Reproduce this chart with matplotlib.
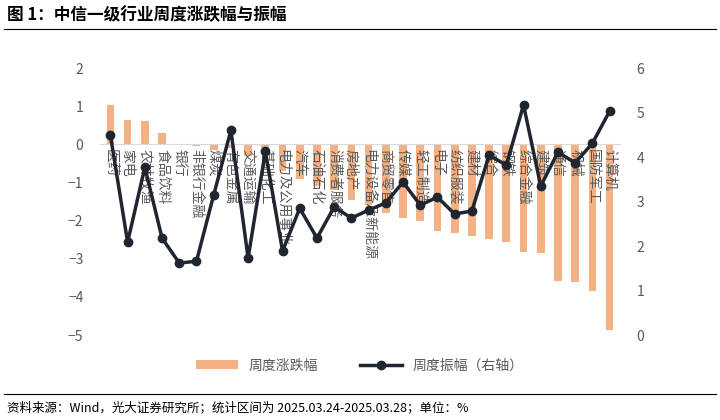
import numpy as np
import matplotlib.pyplot as plt

plt.rcParams['font.family'] = ['Noto Sans CJK SC', 'DejaVu Sans']

industries = ['医药', '家电', '农林牧渔', '食品饮料', '银行', '非银行金融', '煤炭', '有色金属',
              '交通运输', '基础化工', '电力及公用事业', '汽车', '石油石化', '消费者服务', '房地产',
              '电力设备及新能源', '商贸零售', '传媒', '轻工制造', '电子', '纺织服装', '建材', '综合',
              '钢铁', '综合金融', '建筑', '通信', '机械', '国防军工', '计算机']
weekly_change = [1.02, 0.65, 0.60, 0.31, 0.01, -0.05, -0.15, -0.10, -0.30, -0.10, -0.70, -0.90,
                 -1.10, -1.20, -1.47, -1.60, -1.80, -1.93, -2.00, -2.28, -2.33, -2.40, -2.48,
                 -2.57, -2.83, -2.86, -3.58, -3.60, -3.85, -4.87]
amplitude = [4.49, 2.09, 3.77, 2.18, 1.62, 1.66, 3.15, 4.60, 1.73, 4.13, 1.89, 2.85, 2.18, 2.88,
             2.63, 2.81, 2.97, 3.44, 2.92, 3.10, 2.72, 2.79, 4.04, 3.82, 5.17, 3.35, 4.11, 3.87,
             4.31, 5.03]

x = np.arange(len(industries))
grey = '#595959'

fig = plt.figure(figsize=(7.2, 4.2), dpi=100)
ax = fig.add_axes([0.139, 0.202, 0.722, 0.636])
ax2 = ax.twinx()

b = ax.bar(x, weekly_change, width=0.45, color='#f4b183', zorder=1)
l, = ax2.plot(x, amplitude, color='#1f2630', lw=2.5, marker='o', ms=6, zorder=3)

ax.set_ylim(-5, 2)
ax2.set_ylim(0, 6)
ax.set_xlim(-0.6, len(x) - 0.4)
ax.set_yticks(range(-5, 3))
ax2.set_yticks(range(0, 7))
ax.set_xticks(x)
ax.set_xticklabels(industries)
ax.spines['bottom'].set_position(('data', 0))
ax.spines['bottom'].set_color('#d9d9d9')
for a in (ax, ax2):
    for s in ('top', 'left', 'right'):
        a.spines[s].set_visible(False)
    a.tick_params(length=0, labelsize=10, labelcolor=grey, pad=12)
ax2.spines['bottom'].set_visible(False)
ax.tick_params(axis='x', pad=3, labelrotation=-90)
for t in ax.get_xticklabels():
    t.set_va('top')
    t.set_ha('center')

fig.legend([b, l], ['周度涨跌幅', '周度振幅（右轴）'], loc='center', bbox_to_anchor=(0.5, 0.13),
           ncol=2, frameon=False, fontsize=10, labelcolor=grey, handlelength=3, columnspacing=3)

fig.text(0.01, 0.965, '图 1：中信一级行业周度涨跌幅与振幅', fontsize=12, fontweight='bold', va='center')
fig.add_artist(plt.Line2D([0.005, 0.995], [0.93, 0.93], color='black', lw=0.8))
fig.add_artist(plt.Line2D([0.005, 0.995], [0.063, 0.063], color='black', lw=0.8))
fig.text(0.01, 0.03, '资料来源：Wind，光大证券研究所；统计区间为 2025.03.24-2025.03.28；单位：%',
         fontsize=9, va='center')

fig.savefig('out.png', dpi=100)
